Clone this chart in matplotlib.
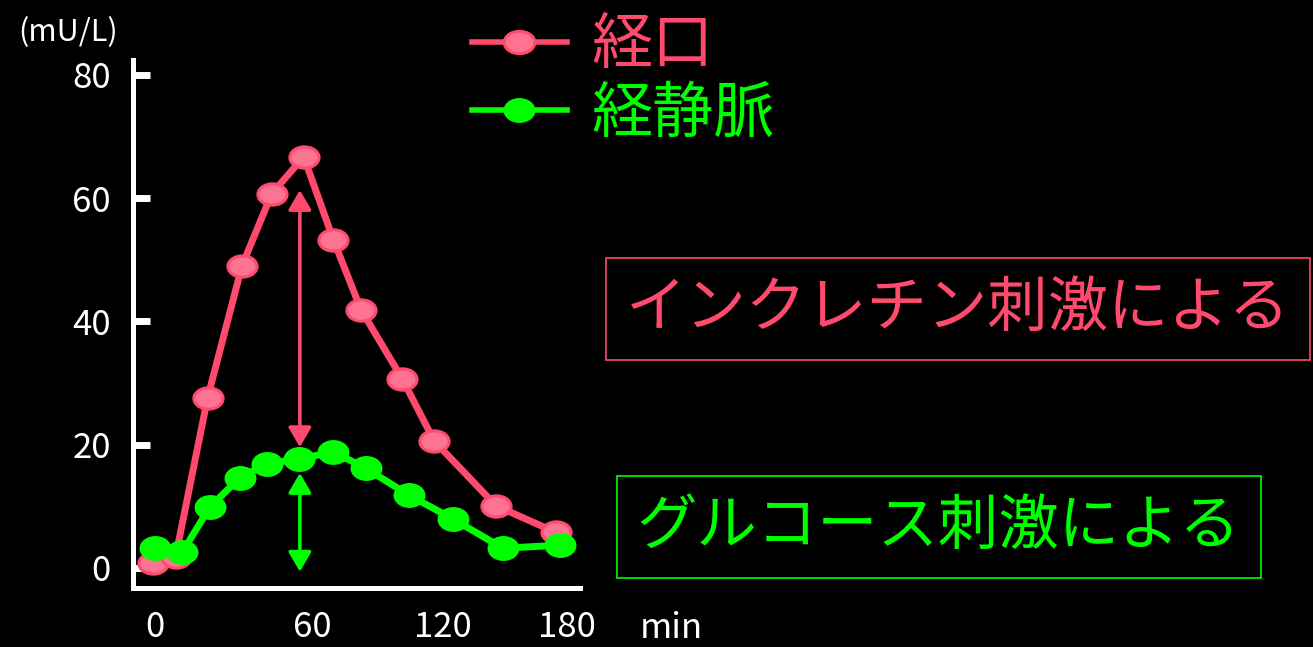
import matplotlib
matplotlib.use("Agg")
import matplotlib.pyplot as plt
from matplotlib.path import Path
from matplotlib.transforms import Affine2D
from matplotlib.lines import Line2D
from matplotlib.patches import ArrowStyle

plt.rcParams['font.family'] = ['Noto Sans CJK JP', 'DejaVu Sans']

# insulin response (mU/L) over time (min)
oral_t = [-1, 9, 23, 38, 51, 65, 78, 90, 108, 122, 149, 175]
oral_v = [0.8, 1.8, 27.6, 49.0, 60.7, 66.7, 53.2, 41.9, 30.7, 20.6, 10.1, 5.8]
iv_t = [0, 12, 24, 37, 49, 63, 78, 92, 111, 130, 152, 177]
iv_v = [3.2, 2.6, 9.9, 14.6, 16.9, 17.7, 18.8, 16.2, 11.8, 8.0, 3.2, 3.7]

series_names = ['経口', '経静脈']
box_texts = ['インクレチン刺激による', 'グルコース刺激による']

# x labels sit where the slide puts them (hand-drawn axis)
xtick_pos = [0, 68.6, 125.8, 180]
xtick_labels = ['0', '60', '120', '180']
yticks = [0, 20, 40, 60, 80]

# double arrows: x, top, bottom
incretin_arrow = (63.3, 61.3, 19.6)
glucose_arrow = (63.3, 15.4, -0.6)

RED = '#FF4A6E'
RED_FACE = '#FF7392'
GREEN = '#00FF00'


def ellipse(aspect):
    return Path.unit_circle().transformed(Affine2D().scale(1, aspect))


fig = plt.figure(figsize=(13.13, 6.47), dpi=100, facecolor='black')
ax = fig.add_axes([133 / 1313, 59 / 647, 447 / 1313, 528 / 647])
ax.set_facecolor('black')

red_line, = ax.plot(oral_t, oral_v, color=RED, lw=5, marker=ellipse(0.73),
                    ms=21, mfc=RED_FACE, mec=RED, mew=2.2, zorder=3)
green_line, = ax.plot(iv_t, iv_v, color=GREEN, lw=5, marker=ellipse(0.78),
                      ms=23, mfc=GREEN, mec=GREEN, mew=0, zorder=4)

for (x, top, bottom), c in [(incretin_arrow, RED), (glucose_arrow, GREEN)]:
    ax.annotate('', xy=(x, top), xytext=(x, bottom),
                arrowprops=dict(arrowstyle=ArrowStyle('<|-|>', head_length=12, head_width=7),
                                mutation_scale=1, color=c, lw=2.5,
                                shrinkA=0, shrinkB=0), zorder=2)

ax.set_xlim(-9.6, 185.7)
ax.set_ylim(-3.25, 82.4)

for s in ['top', 'right']:
    ax.spines[s].set_visible(False)
for s in ['left', 'bottom']:
    ax.spines[s].set_color('white')
    ax.spines[s].set_linewidth(3.6)

ax.set_yticks(yticks)
ax.tick_params(axis='y', direction='in', length=12.5, width=5, color='white',
               labelcolor='white', labelsize=25, pad=16)
ax.set_xticks(xtick_pos)
ax.set_xticklabels(xtick_labels)
ax.tick_params(axis='x', length=0, labelcolor='white', labelsize=25, pad=16)

fig.text(18 / 1313, 1 - 33 / 647, '(mU/L)', color='white', fontsize=22,
         ha='left', va='center')
fig.text(640 / 1313, 1 - 628 / 647, 'min', color='white', fontsize=25,
         ha='left', va='center')

handles = [Line2D([], [], color=RED, lw=4, marker=ellipse(0.73), ms=22,
                  mfc=RED_FACE, mec=RED, mew=2.2),
           Line2D([], [], color=GREEN, lw=4, marker=ellipse(0.78), ms=23,
                  mfc=GREEN, mec=GREEN, mew=0)]
fig.legend(handles, series_names, loc='upper left',
           bbox_to_anchor=(472 / 1313, 1 - 15 / 647), frameon=False, fontsize=44,
           labelcolor=[RED, GREEN], handlelength=1.55, handletextpad=0.4,
           borderpad=0, borderaxespad=0, labelspacing=0.09, numpoints=1)

fig.text(626 / 1313, 1 - 309 / 647, box_texts[0], color=RED, fontsize=43.5,
         ha='left', va='center',
         bbox=dict(boxstyle='square,pad=0.33', fc='none', ec=RED, lw=1.2))
fig.text(637 / 1313, 1 - 527 / 647, box_texts[1], color=GREEN, fontsize=43.5,
         ha='left', va='center',
         bbox=dict(boxstyle='square,pad=0.33', fc='none', ec=GREEN, lw=1.2))

fig.savefig('out.png', dpi=100, facecolor='black')
